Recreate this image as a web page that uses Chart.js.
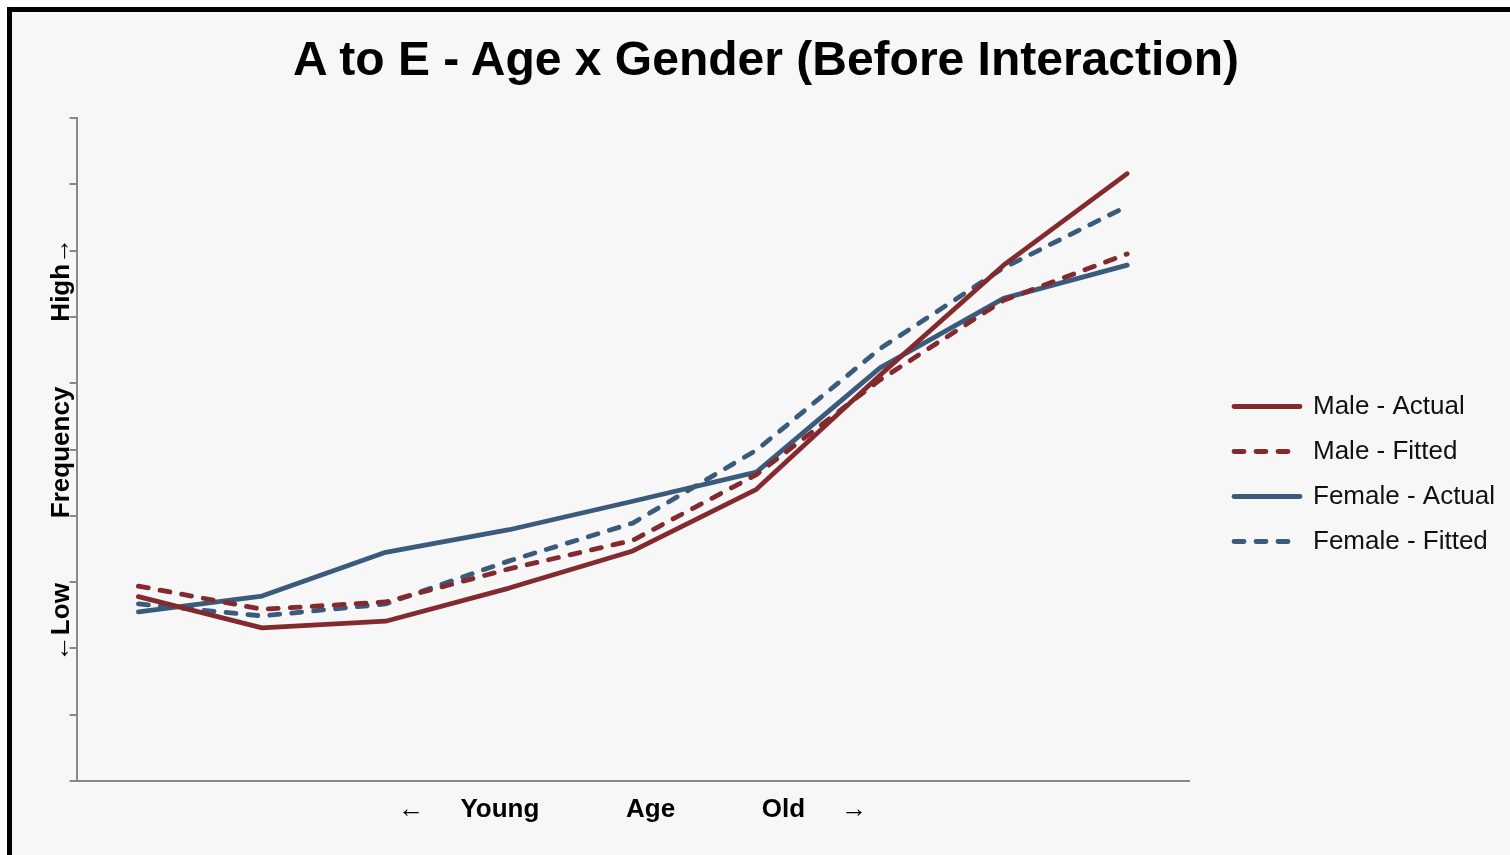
<!DOCTYPE html>
<html>
<head>
<meta charset="utf-8">
<script src="https://cdn.jsdelivr.net/npm/chart.js@4"></script>
<style>
  html, body { margin: 0; padding: 0; background: #ffffff; overflow: hidden; width: 1510px; height: 855px; position: relative; }
  #frame { position: absolute; left: 7px; top: 7px; border: 5px solid #000; background: #f7f7f7; width: 1516px; height: 860px; }
  #c { position: absolute; left: 0; top: 0; display: block; }
  #title { position: absolute; left: 0; top: 35px; width: 1532px; text-align: center; white-space: nowrap;
           font: bold 48px 'Liberation Sans', Arial, Helvetica, sans-serif; line-height: 48px; color: #000; }
</style>
</head>
<body>
<div id="frame"><canvas id="c" width="1498" height="860"></canvas></div>
<div id="title"></div>
<script>
const categories = ['1', '2', '3', '4', '5', '6', '7', '8', '9'];
const maleActual    = [2.78, 2.31, 2.41, 2.91, 3.47, 4.40, 6.12, 7.78, 9.16];
const maleFitted    = [2.94, 2.59, 2.70, 3.20, 3.63, 4.62, 6.05, 7.25, 7.95];
const femaleActual  = [2.55, 2.79, 3.45, 3.79, 4.22, 4.66, 6.23, 7.28, 7.78];
const femaleFitted  = [2.67, 2.49, 2.67, 3.32, 3.89, 4.99, 6.52, 7.74, 8.67];
const seriesNames = ['Male - Actual', 'Male - Fitted', 'Female - Actual', 'Female - Fitted'];
const titleText = 'A to E - Age x Gender (Before Interaction)';
const xTitle = '\u2190     Young            Age            Old     \u2192';
const yTitle = '\u2190Low         Frequency         High\u2192';

document.getElementById('title').textContent = titleText;

const RED = '#832a2f';
const BLUE = '#3b5b7c';
const DASH = [10, 12];
const LINE_W = 4.8;
const LEGEND_GAP = 26;

Chart.defaults.font.family = "'Liberation Sans', Arial, Helvetica, sans-serif";
Chart.defaults.color = '#000';

function ds(label, data, color, dashed) {
  return {
    label, data,
    borderColor: color,
    backgroundColor: color,
    borderWidth: LINE_W,
    borderDash: dashed ? DASH : [],
    borderCapStyle: 'round',
    borderJoinStyle: 'round',
    pointRadius: 0,
    pointHoverRadius: 0,
    pointStyle: 'line',
    tension: 0,
    fill: false
  };
}

// moves the legend box a little to the right of the plot area
const legendGap = {
  id: 'legendGap',
  afterLayout(chart) {
    const lg = chart.legend;
    if (lg) { lg.left += LEGEND_GAP; lg.right += LEGEND_GAP; }
  }
};

new Chart(document.getElementById('c'), {
  type: 'line',
  data: {
    labels: categories,
    datasets: [
      ds(seriesNames[0], maleActual, RED, false),
      ds(seriesNames[1], maleFitted, RED, true),
      ds(seriesNames[2], femaleActual, BLUE, false),
      ds(seriesNames[3], femaleFitted, BLUE, true)
    ]
  },
  plugins: [legendGap],
  options: {
    responsive: false,
    animation: false,
    layout: { padding: { left: 0, right: 33, top: 106, bottom: 45 } },
    plugins: {
      tooltip: { enabled: false },
      title: { display: false },
      legend: {
        position: 'right',
        align: 'center',
        fullSize: false,
        maxWidth: 288,
        title: { display: true, text: ' ', font: { size: 10, lineHeight: 1 }, padding: { top: 39, bottom: 0 } },
        labels: {
          usePointStyle: true,
          pointStyleWidth: 66,
          boxHeight: 26,
          padding: 19,
          color: '#111',
          font: { size: 26 },
          generateLabels(chart) {
            return chart.data.datasets.map((d, i) => ({
              text: d.label,
              datasetIndex: i,
              hidden: !chart.isDatasetVisible(i),
              fillStyle: d.borderColor,
              strokeStyle: d.borderColor,
              lineWidth: d.borderWidth,
              lineDash: d.borderDash,
              lineCap: 'round',
              lineJoin: 'round',
              pointStyle: 'line',
              fontColor: '#111'
            }));
          }
        }
      }
    },
    scales: {
      x: {
        type: 'category',
        offset: true,
        grid: { display: false, drawTicks: false },
        border: { display: true, color: '#888', width: 2 },
        ticks: { display: false },
        title: {
          display: true,
          text: xTitle,
          color: '#000',
          font: { size: 26, weight: 'bold', lineHeight: 1 },
          padding: { top: 16, bottom: 4 }
        }
      },
      y: {
        type: 'linear',
        position: 'left',
        min: 0,
        max: 10,
        ticks: { display: false, stepSize: 1 },
        grid: { display: true, drawOnChartArea: false, drawTicks: true, tickLength: 7, color: '#888', lineWidth: 2 },
        border: { display: true, color: '#888', width: 2 },
        title: {
          display: true,
          text: yTitle,
          color: '#000',
          font: { size: 26, weight: 'bold', lineHeight: 0.6 },
          padding: { top: 42, bottom: 0 }
        }
      }
    }
  }
});
</script>
</body>
</html>
